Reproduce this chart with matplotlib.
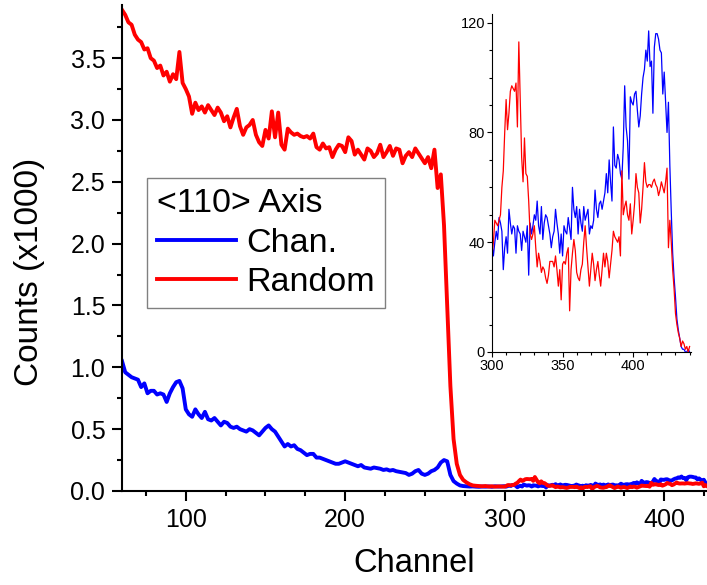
import numpy as np
import matplotlib
matplotlib.use("Agg")
from matplotlib import pyplot as plt
from matplotlib.ticker import MultipleLocator

plt.rcParams['font.family'] = ['Liberation Sans', 'DejaVu Sans']

# spectrum below channel 300, every second channel (counts)
channels_wide = np.arange(60, 300, 2)
random_wide = [3890, 3850, 3790, 3770, 3690, 3650, 3630, 3570, 3580, 3500,
               3480, 3420, 3440, 3360, 3390, 3310, 3370, 3330, 3550, 3300,
               3250, 3190, 3050, 3140, 3080, 3110, 3060, 3120, 3080, 3040,
               3100, 3060, 2990, 3030, 2940, 3020, 3090, 2950, 2880, 2940,
               2960, 3000, 2880, 2820, 2790, 2920, 2850, 3070, 2860, 3060,
               2800, 2760, 2930, 2900, 2880, 2890, 2870, 2860, 2870, 2850,
               2890, 2780, 2760, 2810, 2770, 2780, 2700, 2760, 2800, 2790,
               2740, 2860, 2830, 2720, 2760, 2720, 2680, 2770, 2750, 2700,
               2730, 2800, 2700, 2740, 2790, 2710, 2770, 2760, 2650, 2710,
               2740, 2700, 2770, 2730, 2690, 2650, 2700, 2610, 2760, 2450,
               2560, 2150, 1500, 850, 420, 220, 130, 90, 70, 55,
               45, 42, 40, 38, 40, 36, 38, 35, 37, 36]
chan_wide = [1050, 960, 940, 920, 910, 900, 840, 870, 790, 810,
             810, 780, 790, 780, 720, 790, 840, 880, 890, 830,
             660, 620, 600, 660, 620, 590, 640, 580, 570, 590,
             560, 530, 560, 550, 520, 510, 520, 500, 490, 480,
             500, 490, 470, 450, 480, 510, 530, 500, 480, 440,
             400, 360, 380, 360, 370, 340, 330, 310, 290, 300,
             300, 270, 270, 260, 250, 240, 230, 220, 220, 230,
             240, 230, 220, 210, 200, 210, 190, 185, 180, 190,
             185, 180, 170, 175, 165, 170, 160, 155, 150, 145,
             130, 140, 160, 170, 140, 130, 140, 160, 170, 190,
             230, 250, 240, 130, 80, 60, 45, 40, 38, 36,
             37, 35, 34, 36, 35, 37, 34, 38, 36, 37]

# spectrum from channel 300 to 440, every channel (counts)
channels_fine = np.arange(300, 441)
random_fine = [35, 40, 48, 47, 46, 48, 50, 60, 66, 80,
               92, 81, 87, 95, 97, 96, 95, 98, 82, 113,
               92, 71, 62, 78, 65, 64, 55, 43, 41, 43,
               46, 38, 31, 36, 33, 29, 31, 30, 27, 25,
               28, 33, 33, 33, 31, 35, 30, 24, 30, 19,
               32, 33, 32, 36, 38, 15, 30, 36, 41, 37,
               29, 27, 26, 30, 32, 40, 46, 38, 31, 24,
               30, 36, 32, 26, 30, 33, 28, 24, 30, 36,
               31, 36, 33, 27, 32, 37, 44, 42, 41, 40,
               42, 35, 66, 50, 53, 55, 50, 48, 54, 43,
               48, 54, 65, 60, 58, 47, 52, 60, 69, 62,
               60, 61, 61, 60, 62, 63, 61, 60, 57, 59,
               62, 60, 58, 62, 67, 38, 48, 40, 30, 23,
               14, 10, 7, 5, 2, 4, 3, 1, 2, 0,
               2]
chan_fine = [39, 35, 40, 44, 41, 49, 47, 44, 30, 38,
             42, 36, 52, 47, 43, 46, 45, 36, 46, 44,
             43, 37, 44, 42, 40, 46, 28, 47, 43, 46,
             50, 48, 55, 46, 43, 53, 41, 47, 50, 49,
             46, 43, 38, 42, 44, 52, 47, 43, 36, 43,
             35, 46, 44, 43, 49, 45, 41, 60, 52, 49,
             53, 43, 52, 47, 44, 53, 48, 50, 52, 43,
             46, 45, 48, 59, 52, 49, 54, 55, 52, 55,
             58, 65, 58, 70, 62, 55, 82, 68, 67, 72,
             70, 65, 63, 75, 97, 82, 77, 63, 93, 91,
             90, 94, 95, 88, 82, 86, 94, 100, 103, 110,
             106, 117, 104, 106, 87, 111, 116, 116, 114, 110,
             109, 94, 102, 91, 80, 91, 68, 51, 36, 27,
             20, 12, 8, 5, 2, 1, 1, 0, 0, 1,
             0]

channel = np.concatenate([channels_wide, channels_fine])
random_counts = np.array(random_wide + random_fine, dtype=float)
chan_counts = np.array(chan_wide + chan_fine, dtype=float)

fig = plt.figure(figsize=(7.07, 5.85), dpi=100)
ax = fig.add_axes([0.1726, 0.1607, 0.8274, 0.8308])

ax.plot(channel, chan_counts / 1000, color='#0000ff', lw=2.8, label='Chan.')
ax.plot(channel, random_counts / 1000, color='#ff0000', lw=2.8, label='Random')

ax.set_xlim(60, 427)
ax.set_ylim(0, 3.93)
ax.xaxis.set_major_locator(MultipleLocator(100))
ax.xaxis.set_minor_locator(MultipleLocator(25))
ax.yaxis.set_major_locator(MultipleLocator(0.5))
ax.yaxis.set_minor_locator(MultipleLocator(0.25))
ax.yaxis.set_major_formatter(matplotlib.ticker.FormatStrFormatter('%.1f'))
for side in ['top', 'right']:
    ax.spines[side].set_visible(False)
for side in ['left', 'bottom']:
    ax.spines[side].set_linewidth(1.5)
ax.tick_params(which='major', direction='out', length=7, width=1.5,
               labelsize=18, pad=5)
ax.tick_params(which='minor', direction='out', length=3.5, width=1.5)
ax.set_xlabel('Channel', fontsize=23.5, labelpad=12)
ax.set_ylabel('Counts (x1000)', fontsize=24)
ax.yaxis.set_label_coords(-0.132, 0.45)

leg = ax.legend(title='<110> Axis', loc='upper left',
                bbox_to_anchor=(0.043, 0.644), borderaxespad=0,
                fontsize=24.5, title_fontsize=24.5, fancybox=False,
                edgecolor='#808080', framealpha=1, handlelength=2.3,
                handletextpad=0.3, labelspacing=0.25, borderpad=0.3,
                alignment='left')
leg.get_frame().set_linewidth(1.0)

# zoomed view of the high channels
inset = fig.add_axes([0.6959, 0.3983, 0.2815, 0.577])
inset.set_facecolor('none')
inset.plot(channels_fine, chan_fine, color='#0000ff', lw=0.9)
inset.plot(channels_fine, random_fine, color='#ff0000', lw=0.9)
inset.set_xlim(300, 441)
inset.set_ylim(0, 123)
inset.xaxis.set_major_locator(MultipleLocator(50))
inset.xaxis.set_minor_locator(MultipleLocator(10))
inset.yaxis.set_major_locator(MultipleLocator(40))
inset.yaxis.set_minor_locator(MultipleLocator(10))
for side in ['top', 'right']:
    inset.spines[side].set_visible(False)
for side in ['left', 'bottom']:
    inset.spines[side].set_linewidth(0.8)
inset.tick_params(which='major', direction='out', length=3.5, width=0.8,
                  labelsize=10.5, pad=1.5)
inset.tick_params(which='minor', direction='out', length=2, width=0.8)

plt.savefig('out.png', dpi=100)
